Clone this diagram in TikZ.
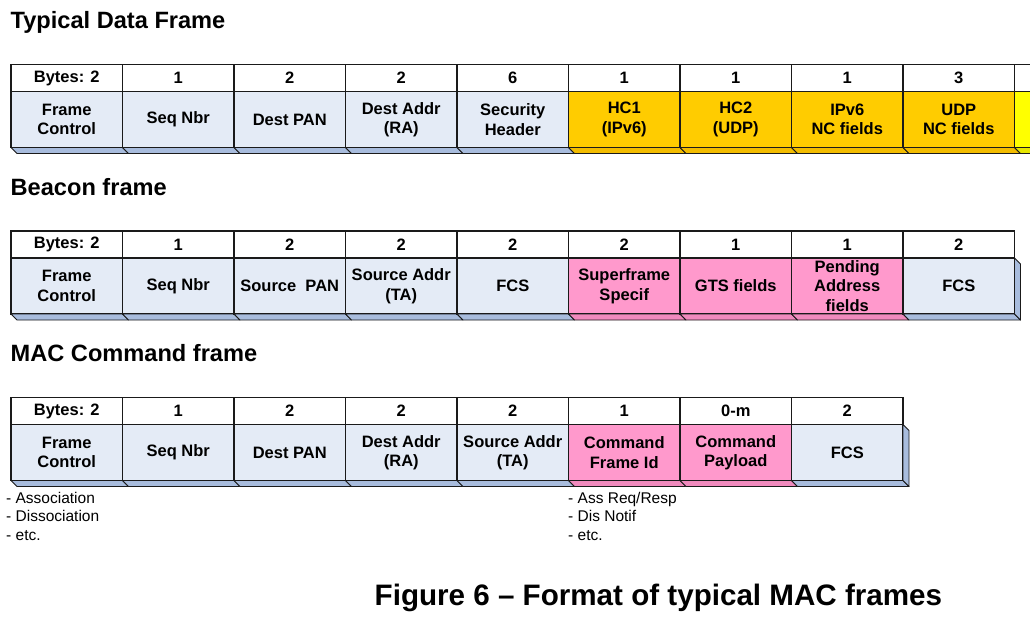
\documentclass[tikz,border=0pt]{standalone}
\usepackage{fontspec}
\setmainfont{Liberation Sans}

\definecolor{ink}{HTML}{1A1A1A}
\definecolor{cblue}{HTML}{E4EBF6}
\definecolor{scblue}{HTML}{A8BCDD}
\definecolor{cgold}{HTML}{FFCC00}
\definecolor{scgold}{HTML}{F2BC00}
\definecolor{cpink}{HTML}{FF99CC}
\definecolor{scpink}{HTML}{F08ABD}
\definecolor{cyel}{HTML}{FFFF00}
\definecolor{scyel}{HTML}{E6E600}

\tikzset{
  cellfont/.style={font=\fontsize{16.5}{19.5}\selectfont\bfseries},
  hdr/.style={draw=ink, line width=1.1pt, fill=white, minimum width=111.5pt,
    minimum height=27pt, inner sep=0pt, outer sep=0pt, anchor=north west,
    align=center, cellfont},
  fld/.style={hdr, minimum height=56pt},
  ledge/.style={draw=ink, line width=0.8pt, line join=round},
  title/.style={font=\fontsize{23.6}{27}\selectfont\bfseries, anchor=base west, inner sep=0pt},
  note/.style={font=\fontsize{15.5}{18.4}\selectfont, align=left, anchor=north west, inner sep=0pt},
  caption/.style={font=\fontsize{29.6}{34}\selectfont\bfseries, anchor=base west, inner sep=0pt},
}

% One frame: byte-count header cells above the field cells, with the
% raised bottom edge under each field.
% #1 row name, #2 top of the row, #3 list of index/bytes/field/colour
\newcommand\framerow[3]{%
  \foreach \ix/\hd/\bd/\col in {#3} {
    \path ({11+111.5*\ix},#2) node[hdr] (#1h\ix) {\hd};
    \path (#1h\ix.south west) node[fld, fill=c\col] (#1b\ix) {\bd};
    \filldraw[ledge, fill=sc\col] (#1b\ix.south west) -- ++(6,6)
      -- ([shift={(6,6)}]#1b\ix.south east) -- (#1b\ix.south east) -- cycle;
  }%
}

\begin{document}
\begin{tikzpicture}[x=1pt, y=-1pt]
  \useasboundingbox (0,0) rectangle (1030,619);
  \clip (0,0) rectangle (1030,619);

  % Typical data frame
  \node[title] (t1) at (10.5,28.5) {Typical Data Frame};
  \framerow{d}{64.5}{
    0/{Bytes: 2}/{Frame\\Control}/blue,
    1/1/{Seq Nbr}/blue,
    2/2/{Dest PAN}/blue,
    3/2/{Dest Addr\\(RA)}/blue,
    4/6/{Security\\Header}/blue,
    5/1/{HC1\\(IPv6)}/gold,
    6/1/{HC2\\(UDP)}/gold,
    7/1/{IPv6\\NC fields}/gold,
    8/3/{UDP\\NC fields}/gold,
    9/{}/{}/yel}

  % Beacon frame
  \node[title] (t2) at (10.5,195) {Beacon frame};
  \framerow{b}{231}{
    0/{Bytes: 2}/{Frame\\Control}/blue,
    1/1/{Seq Nbr}/blue,
    2/2/{Source\ \ PAN}/blue,
    3/2/{Source Addr\\(TA)}/blue,
    4/2/{FCS}/blue,
    5/2/{Superframe\\Specif}/pink,
    6/1/{GTS fields}/pink,
    7/1/{Pending\\Address\\fields}/pink,
    8/2/{FCS}/blue}
  \filldraw[ledge, fill=scblue] (bb8.north east) -- ++(6,6)
    -- ([shift={(6,6)}]bb8.south east) -- (bb8.south east) -- cycle;

  % MAC command frame
  \node[title] (t3) at (10.5,361.5) {MAC Command frame};
  \framerow{m}{397.5}{
    0/{Bytes: 2}/{Frame\\Control}/blue,
    1/1/{Seq Nbr}/blue,
    2/2/{Dest PAN}/blue,
    3/2/{Dest Addr\\(RA)}/blue,
    4/2/{Source Addr\\(TA)}/blue,
    5/1/{Command\\Frame Id}/pink,
    6/{0-m}/{Command\\Payload}/pink,
    7/2/{FCS}/blue}
  \filldraw[ledge, fill=scblue] (mb7.north east) -- ++(6,6)
    -- ([shift={(6,6)}]mb7.south east) -- (mb7.south east) -- cycle;

  % Examples under the frame control and command id fields
  \node[note] (n1) at (6,492) {- Association\\- Dissociation\\- etc.};
  \node[note] (n2) at (568,492) {- Ass Req/Resp\\- Dis Notif\\- etc.};

  \node[caption] (cap) at (374.5,605) {Figure 6 – Format of typical MAC frames};
\end{tikzpicture}
\end{document}
